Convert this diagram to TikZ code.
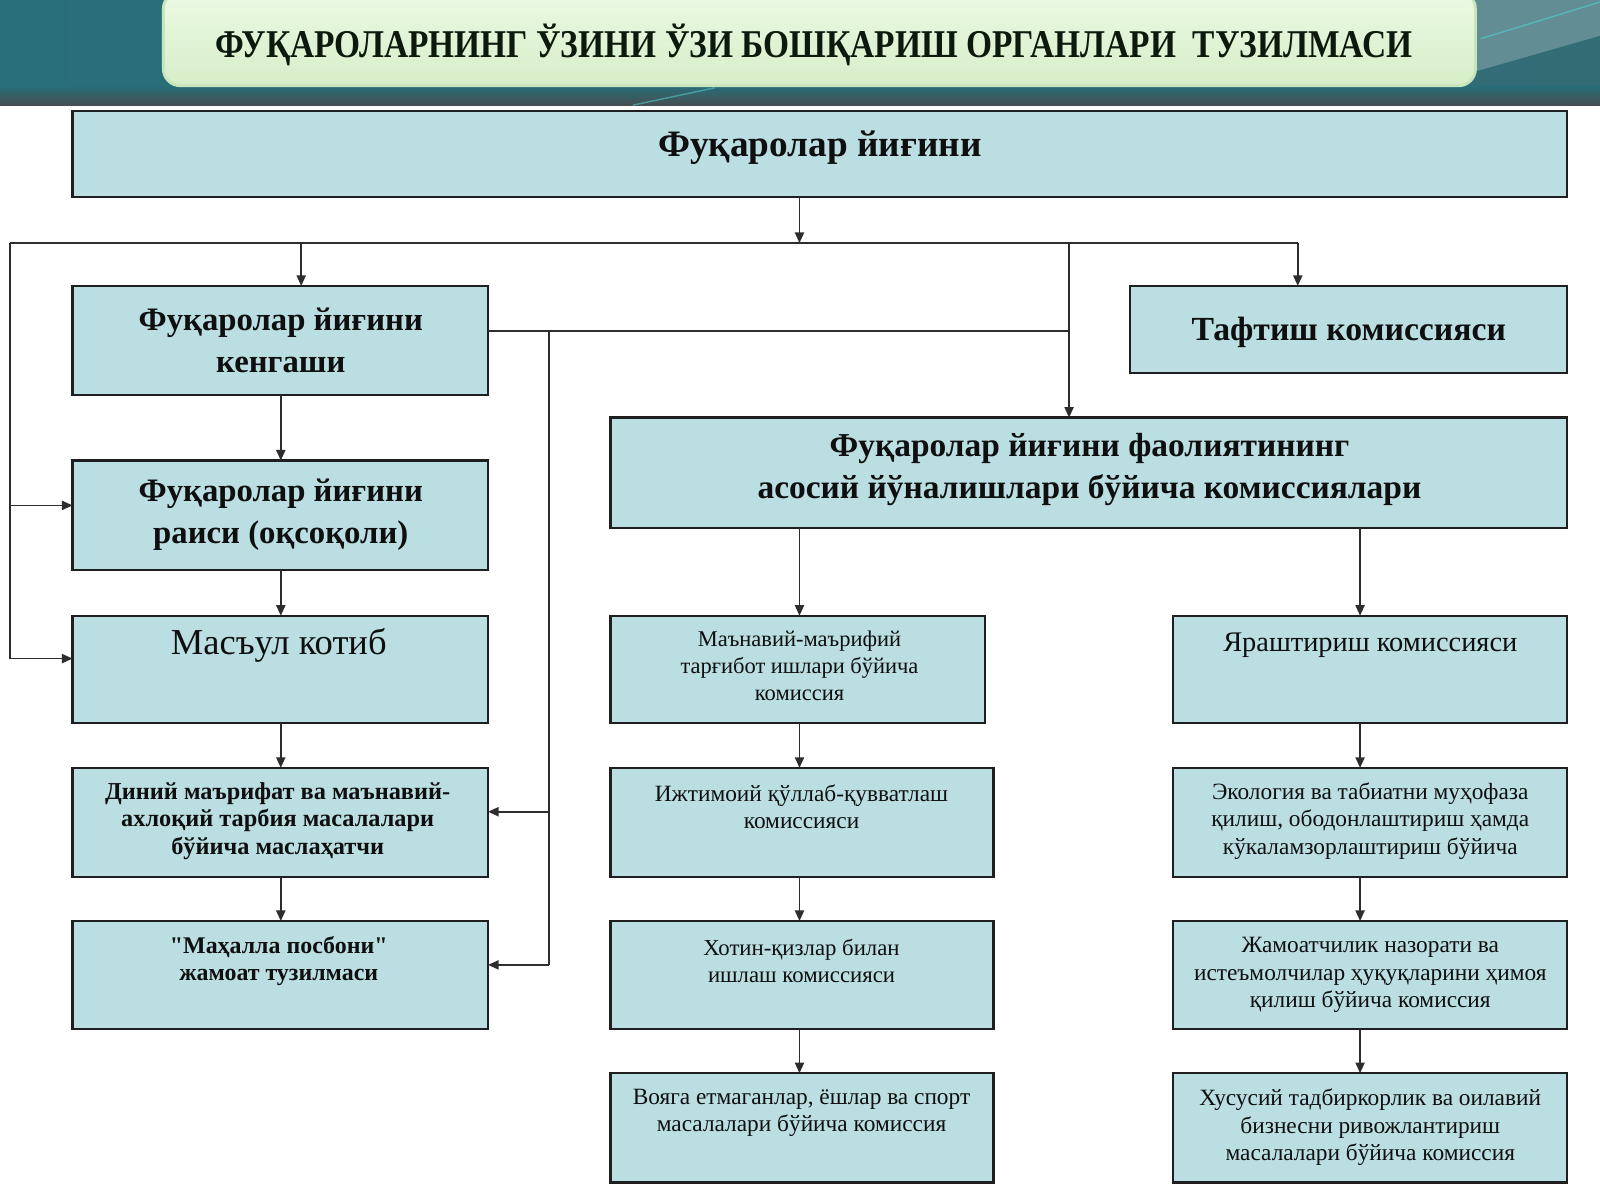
\documentclass[tikz,border=0pt]{standalone}
\usepackage{fontspec}
\setmainfont{Liberation Serif}[Ligatures=TeXOff]
\usetikzlibrary{arrows.meta,calc}
\definecolor{boxfill}{RGB}{186,222,225}
\definecolor{linec}{RGB}{45,45,45}
\definecolor{tealA}{RGB}{40,110,120}
\definecolor{tealB}{RGB}{52,108,118}
\definecolor{tealDark}{RGB}{70,78,82}
\definecolor{tealLight}{RGB}{110,150,156}
\definecolor{streakA}{RGB}{80,200,200}
\definecolor{greenTop}{RGB}{236,249,228}
\definecolor{greenBot}{RGB}{214,238,200}
\definecolor{greenEdge}{RGB}{200,230,190}
\definecolor{titlec}{RGB}{12,25,12}
\definecolor{txt}{RGB}{15,15,15}
\newcommand\myu{0.025526cm}
\newcommand\bx[5]{\node[box,anchor=north west,minimum width=#4*\myu,minimum height=#5*\myu] (#1) at (#2,#3) {};}
\tikzset{
  box/.style={draw=black!88,line width=1.6pt,fill=boxfill,inner sep=0pt,outer sep=0pt},
  ln/.style={draw=linec,line width=1.2pt},
  arr/.style={ln,-{Triangle[length=7.5pt,width=6.5pt]}},
  tbig/.style={font=\bfseries\fontsize{23.3}{29.7}\selectfont,align=center,text=txt,inner sep=0pt},
  treg/.style={font=\fontsize{20.2}{28}\selectfont,align=center,text=txt,inner sep=0pt},
  tsmall/.style={font=\fontsize{16.6}{19.5}\selectfont,align=center,text=txt,inner sep=0pt},
  tsmallb/.style={font=\bfseries\fontsize{17.3}{19.5}\selectfont,align=center,text=txt,inner sep=0pt},
}
\begin{document}
\begin{tikzpicture}[x=0.025526cm,y=-0.025526cm]
\useasboundingbox (0,0) rectangle (1567,1175);
\fill[white] (0,0) rectangle (1567,1175);
% header band
\shade[left color=tealA,right color=tealB] (0,0) rectangle (1567,103);
\shade[top color=tealA,bottom color=tealDark] (0,84) rectangle (1567,103);
\fill[tealLight,opacity=0.8] (1445,0) -- (1567,0) -- (1567,35) -- (1445,70) -- cycle;
\draw[streakA,line width=1pt,opacity=0.7] (1450,38) -- (1567,2);
\draw[streakA,line width=1pt,opacity=0.6] (620,103) -- (700,86);
\shade[rounded corners=12pt,top color=greenTop,bottom color=greenBot,draw=greenEdge,line width=2pt] (160,-8) rectangle (1445,84);
\node[font=\bfseries\fontsize{28}{30}\selectfont,text=titlec,inner sep=0pt] (title) at (797,44) {\scalebox{0.85}[1]{ФУҚАРОЛАРНИНГ ЎЗИНИ ЎЗИ БОШҚАРИШ ОРГАНЛАРИ \ ТУЗИЛМАСИ}};
% boxes
\bx{top}{71}{109}{1464}{84}
\bx{kengash}{71}{280}{407}{107}
\bx{taftish}{1107}{280}{428}{85}
\bx{komiss}{598}{409}{937}{108}
\bx{rais}{71}{451}{407}{107}
\bx{masul}{71}{603}{407}{105}
\bx{diniy}{71}{752}{407}{107}
\bx{mahalla}{71}{902}{407}{106}
\bx{manaviy}{598}{603}{367}{105}
\bx{ijtimoiy}{598}{752}{375}{107}
\bx{xotin}{598}{902}{375}{106}
\bx{voyaga}{598}{1051}{375}{107}
\bx{yarash}{1149}{603}{386}{105}
\bx{ekolog}{1149}{752}{386}{107}
\bx{jamoat}{1149}{902}{386}{106}
\bx{xususiy}{1149}{1051}{386}{107}
% texts
\node[tbig,font=\bfseries\fontsize{26.5}{30}\selectfont] (t-top) at (803,145) {Фуқаролар йиғини};
\node[tbig] (t-kengash) at (275,333) {Фуқаролар йиғини\\кенгаши};
\node[tbig,font=\bfseries\fontsize{24}{30}\selectfont] (t-taftish) at (1321,326) {Тафтиш комиссияси};
\node[tbig,font=\bfseries\fontsize{23.8}{29.7}\selectfont] (t-komiss) at (1067,460) {Фуқаролар йиғини фаолиятининг\\асосий йўналишлари бўйича комиссиялари};
\node[tbig] (t-rais) at (275,504) {Фуқаролар йиғини\\раиси (оқсоқоли)};
\node[treg,font=\fontsize{26}{30}\selectfont] (t-masul) at (273,632) {Масъул котиб};
\node[tsmallb] (t-diniy) at (272,804) {Диний маърифат ва маънавий-\\ахлоқий тарбия масалалари\\бўйича маслаҳатчи};
\node[tsmallb,font=\bfseries\fontsize{17}{19.5}\selectfont] (t-mahalla) at (273,941) {"Маҳалла посбони"\\жамоат тузилмаси};
\node[tsmall,font=\fontsize{16}{19.5}\selectfont] (t-manaviy) at (783,652) {Маънавий-маърифий\\тарғибот ишлари бўйича\\комиссия};
\node[tsmall] (t-ijtimoiy) at (785,790) {Ижтимоий қўллаб-қувватлаш\\комиссияси};
\node[tsmall,font=\fontsize{16.2}{19.5}\selectfont] (t-xotin) at (785,941) {Хотин-қизлар билан\\ишлаш комиссияси};
\node[tsmall] (t-voyaga) at (785,1090) {Вояга етмаганлар, ёшлар ва спорт\\масалалари бўйича комиссия};
\node[treg] (t-yarash) at (1342,632) {Яраштириш комиссияси};
\node[tsmall] (t-ekolog) at (1342,804) {Экология ва табиатни муҳофаза\\қилиш, ободонлаштириш ҳамда\\кўкаламзорлаштириш бўйича};
\node[tsmall] (t-jamoat) at (1342,955) {Жамоатчилик назорати ва\\истеъмолчилар ҳуқуқларини ҳимоя\\қилиш бўйича комиссия};
\node[tsmall] (t-xususiy) at (1342,1104) {Хусусий тадбиркорлик ва оилавий\\бизнесни ривожлантириш\\масалалари бўйича комиссия};
% junction coordinates
\coordinate (cL) at (275,0);
\coordinate (cM) at (783,0);
\coordinate (cR) at (1332,0);
\coordinate (jL) at (10,238);
\coordinate (jR) at (1271,238);
\coordinate (bK) at (295,238);
\coordinate (bC) at (1047,238);
\coordinate (lR) at (10,495);
\coordinate (lM) at (10,645);
\coordinate (kR) at (478,324);
\coordinate (kC) at (1047,324);
\coordinate (vT) at (538,324);
\coordinate (vD) at (538,795);
\coordinate (vM) at (538,945);
% connectors
\draw[arr] (cM |- top.south) -- (cM |- jL);
\draw[ln] (jL) -- (jR);
\draw[arr] (bK) -- (bK |- kengash.north);
\draw[arr] (jR) -- (jR |- taftish.north);
\draw[arr] (bC) -- (bC |- komiss.north);
\draw[ln] (jL) -- (lM);
\draw[arr] (lR) -- (lR -| rais.west);
\draw[arr] (lM) -- (lM -| masul.west);
\draw[ln] (kR) -- (kC);
\draw[ln] (vT) -- (vM);
\draw[arr] (vD) -- (vD -| diniy.east);
\draw[arr] (vM) -- (vM -| mahalla.east);
\draw[arr] (cL |- kengash.south) -- (cL |- rais.north);
\draw[arr] (cL |- rais.south) -- (cL |- masul.north);
\draw[arr] (cL |- masul.south) -- (cL |- diniy.north);
\draw[arr] (cL |- diniy.south) -- (cL |- mahalla.north);
\draw[arr] (cM |- komiss.south) -- (cM |- manaviy.north);
\draw[arr] (cM |- manaviy.south) -- (cM |- ijtimoiy.north);
\draw[arr] (cM |- ijtimoiy.south) -- (cM |- xotin.north);
\draw[arr] (cM |- xotin.south) -- (cM |- voyaga.north);
\draw[arr] (cR |- komiss.south) -- (cR |- yarash.north);
\draw[arr] (cR |- yarash.south) -- (cR |- ekolog.north);
\draw[arr] (cR |- ekolog.south) -- (cR |- jamoat.north);
\draw[arr] (cR |- jamoat.south) -- (cR |- xususiy.north);
\end{tikzpicture}
\end{document}
